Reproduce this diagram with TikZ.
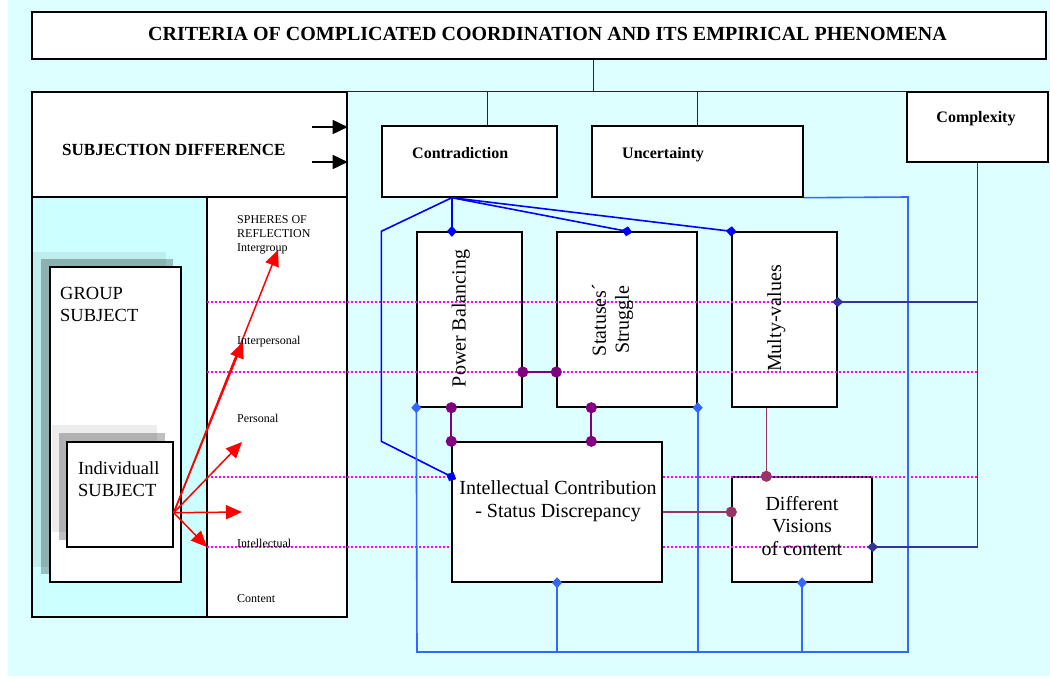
\documentclass[tikz,border=0pt]{standalone}
\usepackage{fontspec}
\setmainfont{Liberation Serif}
\usetikzlibrary{arrows.meta,calc}

\begin{document}
\begin{tikzpicture}[x=1pt,y=-1pt,
  box/.style={draw=black, line width=1.4pt, fill=white, inner sep=0pt},
  lbl/.style={inner sep=0pt, anchor=base west},
  tree/.style={black!85, line width=0.9pt},
  sphereline/.style={mymagenta, line width=1.2pt, dash pattern=on 2pt off 2pt},
  redarrow/.style={red, line width=1.5pt, -{Triangle[length=16pt,width=14pt]}},
  blackarrow/.style={black, line width=1.6pt, -{Triangle[length=15pt,width=14pt]}},
  todia/.style={-{Diamond[length=11pt,width=10pt]}, shorten >=-5.5pt},
  fromdia/.style={{Diamond[length=11pt,width=10pt]}-, shorten <=-5.5pt},
  todot/.style={-{Circle[length=11pt]}, shorten >=-5.5pt},
  twodots/.style={{Circle[length=11pt]}-{Circle[length=11pt]}, shorten <=-5.5pt, shorten >=-5.5pt}]

\definecolor{mybg}{HTML}{DDFFFF}
\definecolor{mypanel}{HTML}{CCFFFF}
\definecolor{myblue}{HTML}{0000FF}
\definecolor{mylightblue}{HTML}{3366FF}
\definecolor{mynavy}{HTML}{333399}
\definecolor{mypurple}{HTML}{800080}
\definecolor{mymaroon}{HTML}{993366}
\definecolor{mymagenta}{HTML}{FF00FF}

\useasboundingbox (0,0) rectangle (1050,678);
\fill[mybg] (8,0) rectangle (1050,676);

% title
\node[box, minimum width=1014pt, minimum height=47pt] (title) at (539,35.5) {};
\node[inner sep=0pt, anchor=base, font=\bfseries\fontsize{20}{24}\selectfont] (titletext) at (547.5,40)
  {CRITERIA OF COMPLICATED COORDINATION AND ITS EMPIRICAL PHENOMENA};

% left frame
\node[box, minimum width=315pt, minimum height=105pt] (sd) at (189.5,144.5) {};
\node[box, fill=mypanel, minimum width=175pt, minimum height=420pt] (panel) at (119.5,407) {};
\node[box, minimum width=140pt, minimum height=420pt] (sph) at (277,407) {};

\fill[black, opacity=0.07] (33,252) rectangle (166,567);
\fill[black, opacity=0.25] (41,259) rectangle (173,574);
\node[box, minimum width=131pt, minimum height=315pt] (gs) at (115.5,424.5) {};
\fill[black, opacity=0.07] (52,425) rectangle (157,532);
\fill[black, opacity=0.25] (59,433) rectangle (165,540);
\node[box, minimum width=106pt, minimum height=105pt] (ind) at (120,494.5) {};

% criteria
\node[box, minimum width=175pt, minimum height=71pt] (contra) at (469.5,161.5) {};
\node[box, minimum width=211pt, minimum height=71pt] (unc) at (697.5,161.5) {};
\node[box, minimum width=141pt, minimum height=70pt] (cx) at (977.5,127) {};

% phenomena
\node[box, minimum width=105pt, minimum height=175pt] (pb) at (469.5,319.5) {};
\node[box, minimum width=140pt, minimum height=175pt] (ss) at (627,319.5) {};
\node[box, minimum width=105pt, minimum height=175pt] (mv) at (784.5,319.5) {};
\node[box, minimum width=140pt, minimum height=105pt] (dv) at (802,529.5) {};

% tree
\coordinate (tb) at (593,92);
\coordinate (cT) at ($(contra.north west)!0.6!(contra.north east)$);
\draw[tree] (title.south -| tb) -- (tb);
\draw[tree] (sd.north east) -- (cx.north west);
\draw[tree] (cT |- tb) -- (cT);
\draw[tree] (unc.north |- tb) -- (unc.north);

\coordinate (ba1) at (312,127);
\coordinate (ba2) at (312,162);
\draw[blackarrow] (ba1) -- (ba1 -| sd.east);
\draw[blackarrow] (ba2) -- (ba2 -| sd.east);

% spheres of reflection
\coordinate (lv1) at (207,302);
\coordinate (lv2) at (207,372);
\coordinate (lv3) at (207,477);
\coordinate (lv4) at (207,547);
\foreach \l in {lv1,lv2,lv3,lv4}
  \draw[sphereline] (\l) -- (\l -| cx.south);

% intellectual contribution box
\node[box, minimum width=210pt, minimum height=140pt] (ic) at (557,512) {};

% individual -> spheres
\coordinate (rs) at ($(ind.south east)+(0,-35)$);
\coordinate (r1) at (278,250);
\coordinate (r2) at (243,342);
\coordinate (r3) at (242,442);
\coordinate (r4) at (242,512);
\coordinate (r5) at (207,547);
\foreach \t in {r1,r2,r3,r4,r5}
  \draw[redarrow] (rs) -- (\t);

% contradiction links
\coordinate (cA) at ($(contra.south west)!0.4!(contra.south east)$);
\coordinate (icL) at ($(ic.north west)!0.25!(ic.south west)$);
\draw[myblue, line width=1.6pt, todia] (cA) -- (cA |- pb.north);
\draw[myblue, line width=1.6pt, todia] (cA) -- (ss.north);
\draw[myblue, line width=1.6pt, todia] (cA) -- (mv.north west);
\draw[myblue, line width=1.6pt, todia] (cA) -- (contra.south west |- pb.north)
  -- (contra.south west |- ic.north) -- (icL);

% uncertainty links
\coordinate (lbNE) at (908,197);
\coordinate (lbSW) at (417,652);
\draw[mylightblue, line width=1.6pt, todia] (unc.south east) -- (lbNE) -- (lbNE |- lbSW)
  -- (lbSW) -- (pb.south west);
\draw[mylightblue, line width=1.6pt, fromdia] (ss.south east) -- (ss.south east |- lbSW);
\draw[mylightblue, line width=1.6pt, fromdia] (ic.south) -- (ic.south |- lbSW);
\draw[mylightblue, line width=1.6pt, fromdia] (dv.south) -- (dv.south |- lbSW);

% complexity links
\draw[mynavy, line width=1.6pt, todia] (cx.south) -- (cx.south |- lv4) -- (dv.east |- lv4);
\draw[mynavy, line width=1.6pt, todia] (cx.south |- lv1) -- (mv.east |- lv1);

% links between phenomena
\draw[mypurple, line width=1.8pt, twodots] (pb.east |- lv2) -- (ss.west |- lv2);
\draw[mypurple, line width=1.8pt, twodots] (ic.north west |- pb.south) -- (ic.north west);
\draw[mypurple, line width=1.8pt, twodots] ($(ss.south west)+(35,0)$) -- ($(ic.north west)+(140,0)$);
\draw[mymaroon, line width=1.4pt, todot] ($(mv.south west)+(35,0)$) -- ($(dv.north west)+(35,0)$);
\draw[mymaroon, line width=1.4pt, todot] (ic.east) -- (ic.east -| dv.west);

% texts
\node[lbl, font=\bfseries\fontsize{17}{20}\selectfont] (sdtext) at (62,155) {SUBJECTION DIFFERENCE};
\node[lbl, font=\bfseries\fontsize{16}{19}\selectfont] (contratext) at (412,158) {Contradiction};
\node[lbl, font=\bfseries\fontsize{16}{19}\selectfont] (unctext) at (622,158) {Uncertainty};
\node[inner sep=0pt, anchor=base, font=\bfseries\fontsize{16}{19}\selectfont] (cxtext) at (976,122) {Complexity};

\node[inner sep=0pt, anchor=west, align=left, font=\fontsize{18.5}{22.5}\selectfont] (gstext) at (60,304.7) {GROUP\\SUBJECT};
\node[inner sep=0pt, anchor=west, align=left, font=\fontsize{18.5}{22.5}\selectfont] (indtext) at (78,479.2) {Individuall\\SUBJECT};

\node[inner sep=0pt, anchor=west, align=left, font=\fontsize{12}{14}\selectfont] (sphtext) at (237,234.4) {SPHERES OF\\REFLECTION\\Intergroup};
\node[lbl, font=\fontsize{12}{14}\selectfont] (s2) at (237,344) {Interpersonal};
\node[lbl, font=\fontsize{12}{14}\selectfont] (s3) at (237,422) {Personal};
\node[lbl, font=\fontsize{12}{14}\selectfont] (s4) at (237,547) {Intellectual};
\node[lbl, font=\fontsize{12}{14}\selectfont] (s5) at (237,602) {Content};

\node[inner sep=0pt, rotate=90, anchor=base, font=\fontsize{20}{23}\selectfont] (pbtext) at (465.5,318.5) {Power Balancing};
\node[inner sep=0pt, rotate=90, align=center, font=\fontsize{20}{23}\selectfont] (sstext) at (612.5,320) {Statuses´\\Struggle};
\node[inner sep=0pt, rotate=90, anchor=base, font=\fontsize{20}{23}\selectfont] (mvtext) at (781,318.5) {Multy-values};

\node[inner sep=0pt, align=center, font=\fontsize{20}{23}\selectfont] (ictext) at (558,501) {Intellectual Contribution\\- Status Discrepancy};
\node[inner sep=0pt, align=center, font=\fontsize{20}{22.5}\selectfont] (dvtext) at (802,525.7) {Different\\Visions\\of content};

\end{tikzpicture}
\end{document}
